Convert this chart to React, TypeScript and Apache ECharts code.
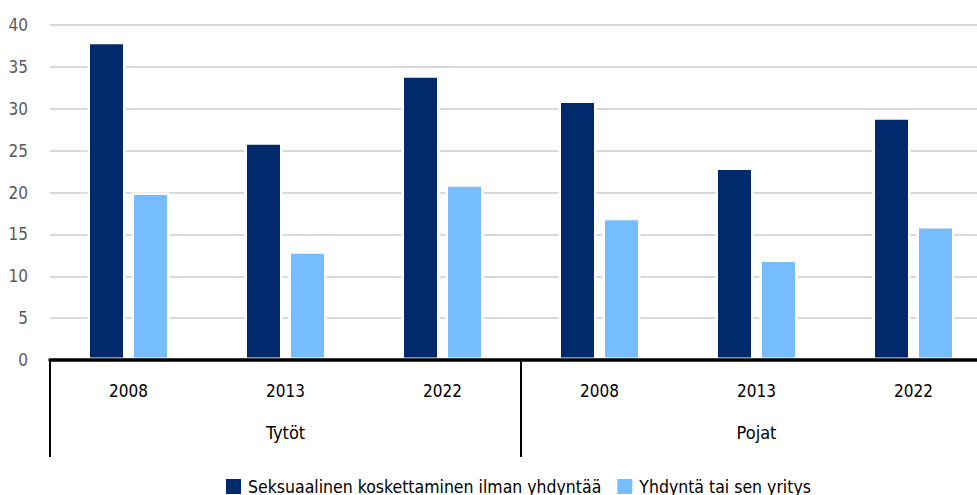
import React, { useEffect, useRef } from "react";
import * as echarts from "echarts";

const years = ["2008", "2013", "2022", "2008", "2013", "2022"];
const groups = ["Tytöt", "Pojat"];
const seriesNames = ["Seksuaalinen koskettaminen ilman yhdyntää", "Yhdyntä tai sen yritys"];
const touchingValues = [38, 26, 34, 31, 23, 29];
const intercourseValues = [20, 13, 21, 17, 12, 16];
const yTicks = { min: 0, max: 40, interval: 5 };

const FONT = "'DejaVu Sans Condensed', 'DejaVu Sans', sans-serif";

export default function App() {
  const ref = useRef<HTMLDivElement>(null);
  useEffect(() => {
    if (!ref.current) return;
    const chart = echarts.init(ref.current, null, { renderer: "svg" });
    chart.setOption({
      animation: false,
      textStyle: { fontFamily: FONT },
      legend: {
        left: 224,
        top: 477,
        padding: 0,
        itemWidth: 17,
        itemHeight: 17,
        itemGap: 14,
        icon: "rect",
        textStyle: { fontFamily: FONT, fontSize: 17.5, color: "#000", padding: [0, 0, 0, 1] },
        data: seriesNames,
      },
      grid: { left: 50, top: 25, width: 942, height: 335, containLabel: false },
      xAxis: [
        {
          type: "category",
          data: years,
          position: "bottom",
          z: 10,
          axisLine: { show: true, lineStyle: { color: "#000", width: 3.5 } },
          axisTick: { show: false },
          axisLabel: { fontFamily: FONT, fontSize: 17, color: "#000", margin: 22, interval: 0 },
          splitLine: { show: false },
        },
        {
          type: "category",
          data: groups,
          position: "bottom",
          z: 10,
          axisLine: { show: false },
          axisTick: { show: true, length: 97, lineStyle: { color: "#000", width: 2 }, interval: 0 },
          axisLabel: { fontFamily: FONT, fontSize: 18, color: "#000", margin: 63, interval: 0 },
          splitLine: { show: false },
        },
      ],
      yAxis: {
        type: "value",
        min: yTicks.min,
        max: yTicks.max,
        interval: yTicks.interval,
        axisLine: { show: false },
        axisTick: { show: false },
        axisLabel: { fontFamily: FONT, fontSize: 17, color: "#595959", margin: 22 },
        splitLine: { show: true, lineStyle: { color: "#d9d9d9", width: 2 } },
      },
      series: [
        {
          name: seriesNames[0],
          type: "bar",
          xAxisIndex: 0,
          data: touchingValues,
          barWidth: 38,
          barGap: "15.8%",
          itemStyle: { color: "#002a6c", borderColor: "#ffffff", borderWidth: 2.5 },
        },
        {
          name: seriesNames[1],
          type: "bar",
          xAxisIndex: 0,
          data: intercourseValues,
          barWidth: 38,
          barGap: "15.8%",
          itemStyle: { color: "#76bdff", borderColor: "#ffffff", borderWidth: 2.5 },
        },
      ],
    });
    return () => chart.dispose();
  }, []);
  return (
    <div style={{ position: "absolute", left: 0, top: 0, width: 977, height: 495, overflow: "hidden", background: "#fff" }}>
      <div ref={ref} style={{ width: 1030, height: 495 }} />
    </div>
  );
}
